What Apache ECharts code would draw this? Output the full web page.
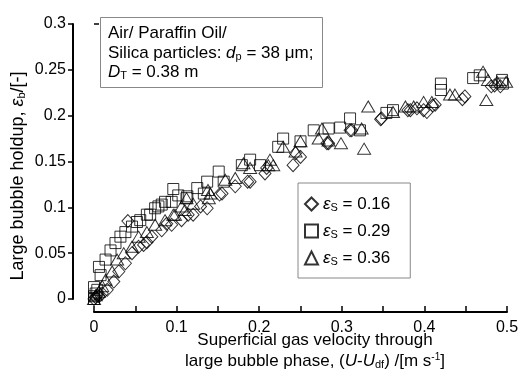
<!DOCTYPE html>
<html><head><meta charset="utf-8">
<script src="https://cdn.jsdelivr.net/npm/echarts@6/dist/echarts.min.js"></script>
<style>html,body{margin:0;padding:0;background:#fff}#c{width:525px;height:377px}</style>
</head><body><div id="c"></div>
<script>
const seriesNames = ['0.16', '0.29', '0.36'];
const diamonds016 = [[0,0],[0.002,0.002],[0.004,0.004],[0.006,0.003],[0.010,0.006],[0.016,0.010],[0.024,0.019],[0.030,0.030],[0.038,0.039],[0.046,0.050],[0.054,0.057],[0.060,0.059],[0.064,0.062],[0.070,0.068],[0.082,0.075],[0.088,0.082],[0.094,0.081],[0.106,0.086],[0.114,0.092],[0.041,0.085],[0.120,0.092],[0.129,0.101],[0.137,0.099],[0.152,0.114],[0.155,0.115],[0.171,0.123],[0.186,0.128],[0.189,0.128],[0.207,0.137],[0.209,0.143],[0.241,0.146],[0.244,0.159],[0.250,0.155],[0.282,0.170],[0.284,0.170],[0.310,0.184],[0.312,0.184],[0.347,0.196],[0.348,0.197],[0.380,0.206],[0.383,0.206],[0.391,0.208],[0.399,0.206],[0.403,0.204],[0.410,0.211],[0.413,0.212],[0.446,0.218],[0.449,0.221],[0.481,0.232],[0.485,0.233],[0.492,0.232]];
const squares029 = [[0,0],[0,0.003],[0.002,0.006],[0.004,0.010],[0,0.013],[0.008,0.026],[0.006,0.035],[0.014,0.043],[0.020,0.053],[0.026,0.061],[0.032,0.068],[0.038,0.073],[0.046,0.079],[0.052,0.084],[0.056,0.086],[0.064,0.092],[0.068,0.092],[0.074,0.099],[0.078,0.101],[0.082,0.103],[0.086,0.106],[0.094,0.106],[0.096,0.120],[0.102,0.113],[0.112,0.110],[0.113,0.112],[0.125,0.121],[0.133,0.115],[0.137,0.128],[0.151,0.139],[0.157,0.128],[0.179,0.146],[0.189,0.152],[0.201,0.146],[0.223,0.166],[0.229,0.175],[0.250,0.172],[0.266,0.184],[0.284,0.186],[0.298,0.187],[0.310,0.197],[0.322,0.184],[0.354,0.203],[0.362,0.206],[0.420,0.235],[0.420,0.228],[0.459,0.241],[0.467,0.244],[0.494,0.239],[0.495,0.235]];
const triangles036 = [[0,0],[0.002,0.004],[0.006,0.008],[0.010,0.014],[0.014,0.021],[0.022,0.030],[0.028,0.043],[0.036,0.050],[0.046,0.057],[0.054,0.068],[0.064,0.073],[0.074,0.081],[0.086,0.086],[0.096,0.092],[0.098,0.092],[0.106,0.101],[0.110,0.097],[0.112,0.110],[0.120,0.104],[0.139,0.110],[0.141,0.115],[0.138,0.119],[0.159,0.130],[0.171,0.132],[0.181,0.148],[0.189,0.143],[0.211,0.146],[0.213,0.152],[0.217,0.146],[0.229,0.166],[0.244,0.161],[0.250,0.172],[0.272,0.175],[0.276,0.186],[0.284,0.173],[0.299,0.170],[0.324,0.186],[0.327,0.164],[0.332,0.210],[0.362,0.204],[0.377,0.210],[0.387,0.210],[0.399,0.215],[0.409,0.215],[0.431,0.223],[0.437,0.223],[0.471,0.248],[0.475,0.217],[0.477,0.239],[0.488,0.237],[0.499,0.237]];
const xTickLabels = ['0', '0.1', '0.2', '0.3', '0.4', '0.5'];
const yTickLabels = ['0', '0.05', '0.1', '0.15', '0.2', '0.25', '0.3'];

const FONT = '"Liberation Sans", Arial, Helvetica, sans-serif';
function rich(fs) {
  return {
    i: { fontStyle: 'italic', fontSize: fs, fontFamily: FONT, lineHeight: 18 },
    sub: { fontSize: 11, fontFamily: FONT, lineHeight: 10, verticalAlign: 'bottom' },
    sup: { fontSize: 10, fontFamily: FONT, lineHeight: 10, verticalAlign: 'top' }
  };
}
function txt(x, y, text, opts) {
  opts = opts || {};
  const fs = opts.fs || 17;
  return {
    type: 'text', x: x, y: y, silent: true, rotation: opts.rotation || 0,
    style: { text: text, font: fs + 'px ' + FONT, fill: '#000', rich: rich(fs), lineHeight: 18,
      textVerticalAlign: 'middle', textAlign: opts.align || 'left' }
  };
}
const chart = echarts.init(document.getElementById('c'), null, { renderer: 'canvas' });
const hollow = { color: 'rgba(0,0,0,0)', borderColor: '#000', borderWidth: 1 };
const symbols = ['diamond', 'rect', 'triangle'];
const sizes = [[12, 13], 11, [13, 11]];
const datasets = [diamonds016, squares029, triangles036];
chart.setOption({
  animation: false,
  backgroundColor: '#fff',
  grid: { left: 94, right: 18, top: 24, bottom: 78 },
  xAxis: {
    type: 'value', min: 0, max: 0.5, interval: 0.05, offset: 13,
    axisLine: { show: true, onZero: false, lineStyle: { color: '#000', width: 2 } },
    axisTick: { show: true, inside: true, length: 6, lineStyle: { color: '#000', width: 1.5 } },
    axisLabel: { margin: 8, color: '#000', fontSize: 16, fontFamily: FONT,
      formatter: v => { const k = Math.round(v * 10); return Math.abs(v * 10 - k) < 1e-6 ? xTickLabels[k] : ''; } },
    splitLine: { show: false }
  },
  yAxis: [{
    type: 'value', min: 0, max: 0.3, interval: 0.05, offset: 21,
    axisLine: { show: true, onZero: false, lineStyle: { color: '#000', width: 2 } },
    axisTick: { show: true, inside: false, length: 5, lineStyle: { color: '#000', width: 1.5 } },
    axisLabel: { margin: 7, color: '#000', fontSize: 16, fontFamily: FONT,
      formatter: v => yTickLabels[Math.round(v / 0.05)] },
    splitLine: { show: false }
  }, {
    type: 'value', min: 0, max: 0.3, interval: 0.3, offset: 21, position: 'left',
    axisLine: { show: false },
    axisTick: { show: true, inside: true, length: 5, lineStyle: { color: '#000', width: 1.5 } },
    axisLabel: { show: false }, splitLine: { show: false }
  }],
  legend: {
    orient: 'vertical', left: 298, top: 183,
    padding: [12, 20, 11, 6], itemGap: 9, itemWidth: 13, itemHeight: 13,
    borderColor: '#888', borderWidth: 1, backgroundColor: '#fff',
    data: seriesNames,
    textStyle: { color: '#000', fontSize: 17, fontFamily: FONT, lineHeight: 18, rich: rich(17) },
    formatter: n => '{i|ε}{sub|S} = ' + n
  },
  series: datasets.map((d, i) => ({
    type: 'scatter', name: seriesNames[i], data: d, symbol: symbols[i], symbolSize: sizes[i],
    itemStyle: hollow, yAxisIndex: 0, clip: false
  })),
  graphic: [
    { type: 'rect', silent: true, shape: { x: 100.5, y: 17.5, width: 222, height: 70 },
      style: { fill: '#fff', stroke: '#888', lineWidth: 1 } },
    txt(108, 33, 'Air/ Paraffin Oil/'),
    txt(108, 53, 'Silica particles: {i|d}{sub|p} = 38 μm;'),
    txt(108, 72, '{i|D}{sub|T} = 0.38 m'),
    txt(315, 340, 'Superficial gas velocity through', { align: 'center' }),
    txt(315, 361, 'large bubble phase, ({i|U}-{i|U}{sub|df}) /[m s{sup|-1}]', { align: 'center' }),
    txt(18, 176, 'Large bubble holdup, {i|ε}{sub|b}/[-]', { align: 'center', rotation: Math.PI / 2, fs: 18 })
  ]
});
</script></body></html>
